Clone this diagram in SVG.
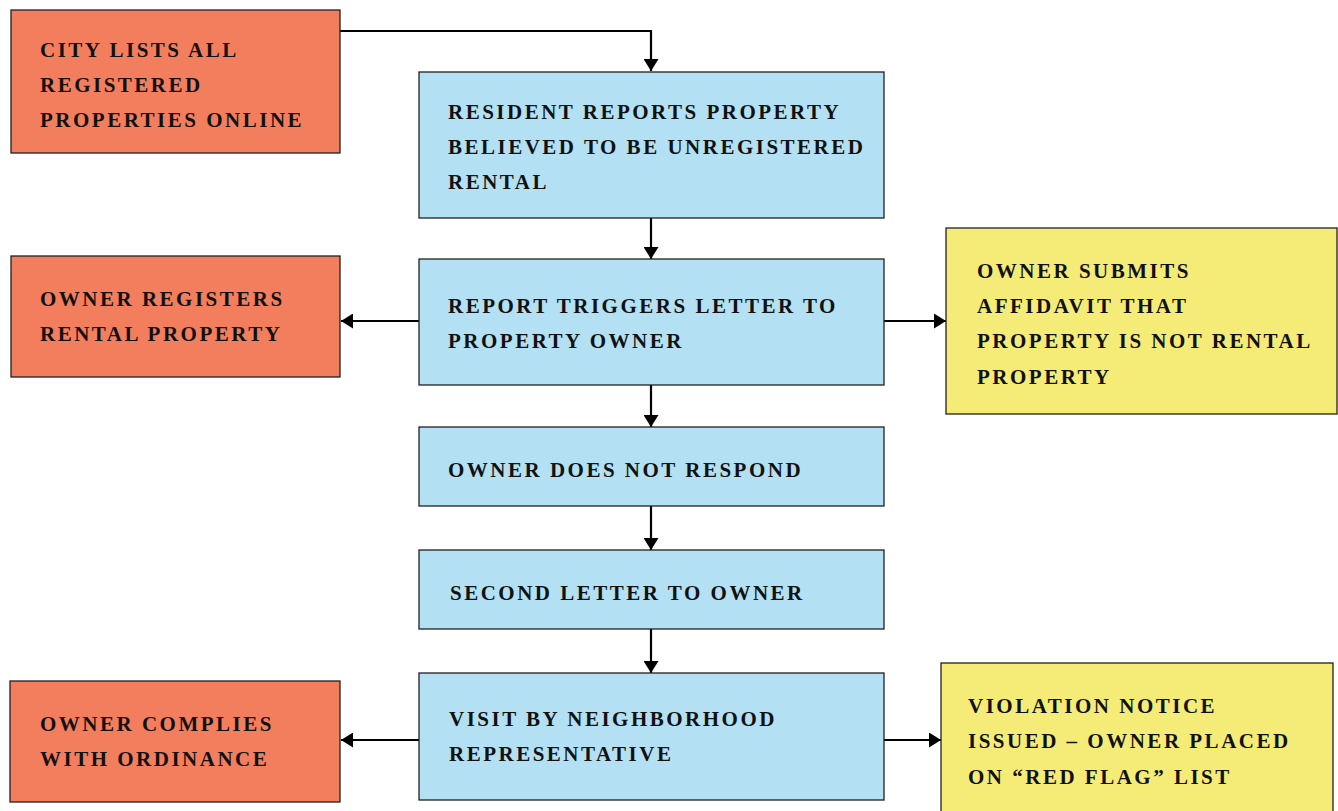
<svg xmlns="http://www.w3.org/2000/svg" width="1338" height="811" viewBox="0 0 1338 811">
<defs>
<style>
.box{stroke:#231f20;stroke-width:1.3}
.o{fill:#f37e5d}
.b{fill:#b3e1f3}
.y{fill:#f5ec78}
text{font-family:"Liberation Serif",serif;font-weight:bold;font-size:21px;letter-spacing:2.5px;fill:#111}
.c{fill:none;stroke:#000;stroke-width:2.2}
</style>
<marker id="ah" viewBox="0 0 10 10" refX="10" refY="5" markerWidth="12" markerHeight="15" markerUnits="userSpaceOnUse" orient="auto" preserveAspectRatio="none">
<path d="M0,0 L10,5 L0,10 Z" fill="#000"/>
</marker>
</defs>
<rect width="1338" height="811" fill="#fff"/>
<g id="connectors">
<path class="c" d="M340,31 H651 V71" marker-end="url(#ah)"/>
<path class="c" d="M651,218 V259" marker-end="url(#ah)"/>
<path class="c" d="M419,321 H341" marker-end="url(#ah)"/>
<path class="c" d="M884,321 H946" marker-end="url(#ah)"/>
<path class="c" d="M651,385 V427" marker-end="url(#ah)"/>
<path class="c" d="M651,506 V550" marker-end="url(#ah)"/>
<path class="c" d="M651,629 V673" marker-end="url(#ah)"/>
<path class="c" d="M419,740 H341" marker-end="url(#ah)"/>
<path class="c" d="M884,740 H941" marker-end="url(#ah)"/>
</g>
<g id="n1"><rect class="box o" x="11" y="10" width="329" height="143"/>
<text x="40" y="57">CITY LISTS ALL</text><text x="40" y="92">REGISTERED</text><text x="40" y="127">PROPERTIES ONLINE</text></g>
<g id="n2"><rect class="box b" x="419" y="72" width="465" height="146"/>
<text x="448" y="119">RESIDENT REPORTS PROPERTY</text><text x="448" y="154">BELIEVED TO BE UNREGISTERED</text><text x="448" y="189">RENTAL</text></g>
<g id="n3"><rect class="box b" x="419" y="259" width="465" height="126"/>
<text x="448" y="313">REPORT TRIGGERS LETTER TO</text><text x="448" y="348">PROPERTY OWNER</text></g>
<g id="n4"><rect class="box o" x="11" y="256" width="329" height="121"/>
<text x="40" y="306">OWNER REGISTERS</text><text x="40" y="341">RENTAL PROPERTY</text></g>
<g id="n5"><rect class="box y" x="946" y="228" width="391" height="186"/>
<text x="977" y="278">OWNER SUBMITS</text><text x="977" y="313">AFFIDAVIT THAT</text><text x="977" y="348">PROPERTY IS NOT RENTAL</text><text x="977" y="384">PROPERTY</text></g>
<g id="n6"><rect class="box b" x="419" y="427" width="465" height="79"/>
<text x="448" y="477">OWNER DOES NOT RESPOND</text></g>
<g id="n7"><rect class="box b" x="419" y="550" width="465" height="79"/>
<text x="450" y="600">SECOND LETTER TO OWNER</text></g>
<g id="n8"><rect class="box b" x="419" y="673" width="465" height="127"/>
<text x="449" y="726">VISIT BY NEIGHBORHOOD</text><text x="449" y="761">REPRESENTATIVE</text></g>
<g id="n9"><rect class="box o" x="10" y="681" width="330" height="121"/>
<text x="40" y="731">OWNER COMPLIES</text><text x="40" y="766">WITH ORDINANCE</text></g>
<g id="n10"><rect class="box y" x="941" y="663" width="392" height="160"/>
<text x="968" y="713">VIOLATION NOTICE</text><text x="968" y="748">ISSUED – OWNER PLACED</text><text x="968" y="784">ON “RED FLAG” LIST</text></g>
</svg>
